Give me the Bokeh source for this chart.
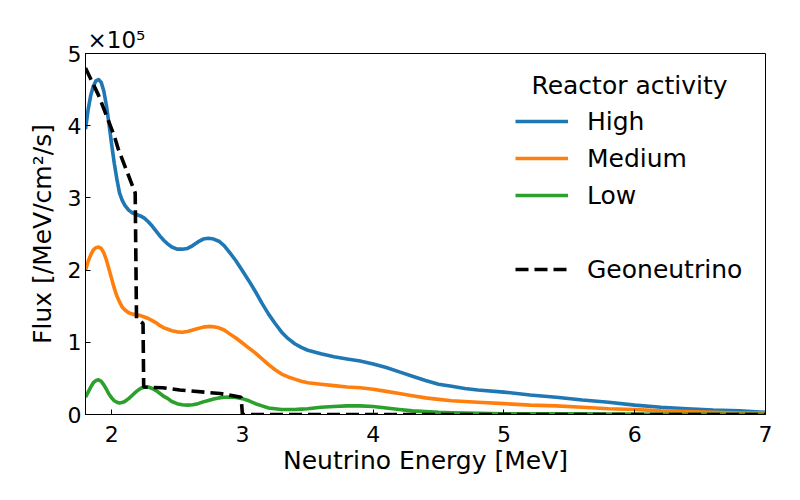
from bokeh.plotting import figure
from bokeh.models import Range1d, Label, Legend, LegendItem, FixedTicker, Title
from bokeh.embed import file_html
from bokeh.resources import INLINE

# ---- data (flux in units of 1e5 /MeV/cm^2/s) ----
energy_x = [1.80, 1.82, 1.84, 1.86, 1.88, 1.90, 1.92, 1.94, 1.96, 1.98, 2.00, 2.02, 2.04, 2.06, 2.08, 2.10,
            2.13, 2.16, 2.19, 2.22, 2.25, 2.28, 2.31, 2.34, 2.37, 2.40, 2.43, 2.46,
            2.50, 2.54, 2.58, 2.62, 2.66, 2.70, 2.74, 2.78, 2.82, 2.86, 2.90,
            2.95, 3.00, 3.05, 3.10, 3.15, 3.20, 3.25, 3.30, 3.35, 3.40, 3.45, 3.50,
            3.60, 3.70, 3.80, 3.90, 4.00, 4.10, 4.20, 4.30, 4.40, 4.50, 4.60, 4.70, 4.80,
            5.00, 5.20, 5.40, 5.60, 5.80, 6.00, 6.20, 6.40, 6.60, 6.80, 7.00]

high_y = [3.95, 4.22, 4.42, 4.55, 4.62, 4.64, 4.60, 4.48, 4.28, 4.02, 3.74, 3.48, 3.26, 3.07, 2.97, 2.90,
          2.83, 2.79, 2.77, 2.75, 2.72, 2.67, 2.61, 2.54, 2.47, 2.41, 2.36, 2.32,
          2.29, 2.29, 2.30, 2.34, 2.39, 2.43, 2.44, 2.43, 2.40, 2.34, 2.25,
          2.13, 1.99, 1.85, 1.70, 1.54, 1.39, 1.26, 1.14, 1.05, 0.98, 0.93, 0.89,
          0.84, 0.80, 0.77, 0.74, 0.70, 0.65, 0.59, 0.53, 0.47, 0.42, 0.39, 0.36, 0.34,
          0.31, 0.27, 0.24, 0.20, 0.17, 0.13, 0.10, 0.08, 0.06, 0.05, 0.03]

medium_y = [2.00, 2.12, 2.21, 2.28, 2.31, 2.32, 2.30, 2.24, 2.14, 2.01, 1.88, 1.75, 1.64, 1.56, 1.49, 1.45,
            1.41, 1.39, 1.38, 1.37, 1.35, 1.33, 1.30, 1.27, 1.23, 1.20, 1.18, 1.16,
            1.145, 1.14, 1.15, 1.17, 1.19, 1.21, 1.22, 1.215, 1.20, 1.17, 1.12,
            1.06, 0.99, 0.92, 0.85, 0.77, 0.69, 0.62, 0.56, 0.52, 0.49, 0.46, 0.44,
            0.42, 0.40, 0.38, 0.37, 0.35, 0.32, 0.29, 0.26, 0.23, 0.21, 0.19, 0.18, 0.17,
            0.15, 0.13, 0.12, 0.10, 0.08, 0.07, 0.05, 0.04, 0.03, 0.02, 0.02]

low_y = [0.24, 0.31, 0.38, 0.44, 0.47, 0.48, 0.46, 0.41, 0.35, 0.28, 0.23, 0.19, 0.17, 0.16, 0.165, 0.18,
         0.22, 0.27, 0.32, 0.36, 0.38, 0.38, 0.36, 0.33, 0.29, 0.25, 0.22, 0.18,
         0.15, 0.135, 0.13, 0.135, 0.15, 0.175, 0.195, 0.215, 0.23, 0.238, 0.24,
         0.235, 0.22, 0.19, 0.15, 0.12, 0.09, 0.08, 0.07, 0.07, 0.07, 0.075, 0.08,
         0.10, 0.11, 0.12, 0.12, 0.11, 0.09, 0.07, 0.05, 0.04, 0.03, 0.025, 0.02, 0.015,
         0.01, 0.01, 0.01, 0.008, 0.006, 0.005, 0.004, 0.004, 0.003, 0.003, 0.003]

geo_x = [1.80, 1.90, 2.02, 2.05, 2.18, 2.19, 2.24, 2.245, 2.39, 2.52, 2.83, 2.99, 3.00, 7.00]
geo_y = [4.80, 4.42, 3.86, 3.68, 3.07, 1.33, 1.26, 0.38, 0.37, 0.34, 0.29, 0.24, 0.00, 0.00]

x_ticks = [2, 3, 4, 5, 6, 7]
y_ticks = [0, 1, 2, 3, 4, 5]
series_labels = ["High", "Medium", "Low", "Geoneutrino"]
colors = ["#1f77b4", "#ff7f0e", "#2ca02c", "black"]

FONT = "DejaVu Sans"

p = figure(width=784, height=484, output_backend="svg", toolbar_location=None,
           x_range=Range1d(1.8, 7), y_range=Range1d(0, 5),
           min_border_left=85, min_border_right=19, min_border_top=53, min_border_bottom=70)
p.background_fill_color = "white"
p.border_fill_color = "white"
p.outline_line_color = "black"
p.outline_line_width = 1
p.xgrid.visible = False
p.ygrid.visible = False

for ax in (p.xaxis, p.yaxis):
    ax.axis_line_color = "black"
    ax.axis_line_width = 1
    ax.major_tick_in = 5
    ax.major_tick_out = 0
    ax.major_tick_line_color = "black"
    ax.minor_tick_line_color = None
    ax.major_label_text_font = FONT
    ax.major_label_text_font_size = "22px"
    ax.major_label_text_color = "black"
    ax.axis_label_text_font = FONT
    ax.axis_label_text_font_size = "25px"
    ax.axis_label_text_font_style = "normal"
    ax.axis_label_text_color = "black"

p.xaxis.ticker = FixedTicker(ticks=x_ticks)
p.yaxis.ticker = FixedTicker(ticks=y_ticks)
p.xaxis.axis_label = "Neutrino Energy [MeV]"
p.yaxis.axis_label = "Flux [/MeV/cm²/s]"
p.xaxis.major_label_standoff = 11
p.yaxis.major_label_standoff = 4
p.xaxis.axis_label_standoff = 1
p.yaxis.axis_label_standoff = 8

LW = 3.6
r_high = p.line(energy_x, high_y, line_color=colors[0], line_width=LW, line_join="round")
r_med = p.line(energy_x, medium_y, line_color=colors[1], line_width=LW, line_join="round")
r_low = p.line(energy_x, low_y, line_color=colors[2], line_width=LW, line_join="round")
r_blank = p.line(geo_x[:2], geo_y[:2], line_alpha=0)
r_geo = p.line(geo_x, geo_y, line_color=colors[3], line_width=LW, line_dash="13 6")

legend = Legend(items=[
    LegendItem(label=series_labels[0], renderers=[r_high]),
    LegendItem(label=series_labels[1], renderers=[r_med]),
    LegendItem(label=series_labels[2], renderers=[r_low]),
    LegendItem(label=" ", renderers=[r_blank]),
    LegendItem(label=series_labels[3], renderers=[r_geo]),
], location=(430, 127))
legend.border_line_color = None
legend.background_fill_alpha = 0
legend.label_text_font = FONT
legend.label_text_font_size = "25px"
legend.label_text_color = "black"
legend.glyph_width = 53
legend.glyph_height = 36
legend.label_height = 36
legend.label_standoff = 19
legend.spacing = 1
legend.padding = 10
legend.margin = 0
p.add_layout(legend)

p.add_layout(Label(x=5.96, y=4.557, text="Reactor activity", text_align="center",
                   text_baseline="alphabetic", text_font=FONT, text_font_size="25px",
                   text_color="black"))

p.add_layout(Title(text="×10⁵", align="left", offset=2, standoff=1,
                   text_font=FONT, text_font_size="23px", text_font_style="normal",
                   text_color="black"), "above")

open("out.html", "w").write(file_html(p, INLINE))
